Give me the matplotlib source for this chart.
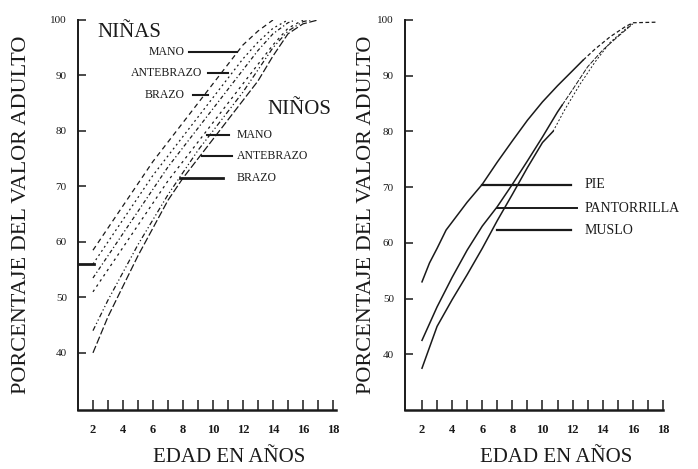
import matplotlib.pyplot as plt
import numpy as np

plt.rcParams['font.family'] = ['Liberation Serif', 'DejaVu Serif']

# left panel: growth curves of arm segments, girls (NIÑAS) and boys (NIÑOS)
ninas_mano_x = [2, 3, 4, 5, 6, 7, 8, 9, 10, 11, 12, 13, 14]
ninas_mano_y = [58.5, 62.5, 66.5, 70.5, 74.5, 78, 81.5, 85, 88.5, 92, 95.5, 98, 100]
ninas_ante_x = [2, 3, 4, 5, 6, 7, 8, 9, 10, 11, 12, 13, 14, 15]
ninas_ante_y = [56, 60, 64, 68, 72, 75.5, 79, 82.5, 86, 89.5, 93, 96, 98.5, 100]
ninas_brazo_x = [2, 3, 4, 5, 6, 7, 8, 9, 10, 11, 12, 13, 14, 15, 15.5]
ninas_brazo_y = [53.5, 57.5, 61.5, 65.5, 69.5, 73.5, 77, 80.5, 84, 87.5, 91, 94.5, 97.5, 99.5, 100]
ninos_mano_x = [2, 3, 4, 5, 6, 7, 8, 9, 10, 11, 12, 13, 14, 15, 16]
ninos_mano_y = [51, 55, 59, 63, 67, 71, 74.5, 78, 81.5, 85, 88.5, 92, 95.5, 98.5, 100]
ninos_ante_x = [2, 3, 4, 5, 6, 7, 8, 9, 10, 11, 12, 13, 14, 15, 16, 16.5]
ninos_ante_y = [44, 49.5, 54.5, 59.5, 64, 68.5, 72.5, 76.5, 80, 83.5, 87, 91, 95, 98, 99.7, 100]
ninos_brazo_x = [2, 3, 4, 5, 6, 7, 8, 9, 10, 11, 12, 13, 14, 15, 16, 17]
ninos_brazo_y = [40, 46.5, 52, 57.5, 62.5, 67.5, 71.5, 75, 78.5, 82, 85.5, 89, 93.5, 97.5, 99.3, 100]

# right panel: leg segments
pie_x = [2, 2.5, 3, 3.6, 5, 6, 7, 8, 9, 10, 11, 12, 12.7]
pie_y = [53, 56.4, 59, 62.3, 67.3, 70.5, 74.5, 78.3, 82, 85.3, 88.2, 90.9, 92.8]
pie_tail_x = [12.7, 13.5, 14.5, 15.5, 16, 17.5]
pie_tail_y = [92.8, 94.8, 97, 98.8, 99.5, 99.6]
pant_x = [2, 3, 4, 5, 6, 7, 8, 9, 10, 11, 11.3]
pant_y = [42.5, 48.5, 53.8, 58.7, 63, 66.5, 70.5, 74.7, 79, 83.5, 84.7]
pant_tail_x = [11.3, 12, 13, 14, 15, 16]
pant_tail_y = [84.7, 87.5, 91.6, 94.6, 97, 99.3]
muslo_x = [2, 3, 4, 5, 6, 7, 8, 9, 10, 10.7]
muslo_y = [37.5, 45, 49.8, 54.3, 59, 64, 68.7, 73.5, 78, 80]
muslo_tail_x = [10.7, 11.5, 12.5, 13.5, 14.5, 16]
muslo_tail_y = [80, 84, 88.5, 92.5, 96, 99.5]

yticks = [40, 50, 60, 70, 80, 90, 100]
xticks = list(range(2, 19))
xlabels = [str(t) if t % 2 == 0 else '' for t in xticks]

fig = plt.figure(figsize=(6.98, 4.69), dpi=100)
axL = fig.add_axes([0.1117, 0.1258, 0.3696, 0.8316])
axR = fig.add_axes([0.5802, 0.1258, 0.3696, 0.8316])

ink = '#1a1a1a'

def style(ax, xlim, ylim, ypad):
    ax.set_xlim(*xlim)
    ax.set_ylim(*ylim)
    ax.spines['top'].set_visible(False)
    ax.spines['right'].set_visible(False)
    ax.spines['left'].set_linewidth(1.4)
    ax.spines['bottom'].set_linewidth(1.8)
    ax.spines['left'].set_color(ink)
    ax.spines['bottom'].set_color(ink)
    ax.set_yticks(yticks)
    ax.set_yticklabels([str(v) for v in yticks], fontsize=8)
    ax.set_xticks(xticks)
    ax.set_xticklabels(xlabels, fontsize=9, fontweight='bold')
    ax.tick_params(axis='x', direction='in', length=7, width=1.1, pad=10, colors=ink)
    ax.tick_params(axis='y', direction='in', length=6, width=1.1, pad=8, colors=ink)
    ax.set_ylabel('PORCENTAJE DEL VALOR ADULTO', fontsize=16, color=ink, labelpad=ypad)
    ax.set_xlabel('EDAD EN AÑOS', fontsize=15, color=ink)
    ax.xaxis.set_label_coords(0.585, -0.098)

style(axL, (1, 18.2), (29.7, 100), 14)
style(axR, (0.87, 18), (30, 100), 1)

# left curves
lw = 0.9
axL.plot(ninas_mano_x, ninas_mano_y, color=ink, lw=lw, ls=(0, (4, 3)))
axL.plot(ninas_ante_x, ninas_ante_y, color=ink, lw=lw, ls=(0, (1.5, 2.5)))
axL.plot(ninas_brazo_x, ninas_brazo_y, color=ink, lw=lw, ls=(0, (3, 2, 1, 2)))
axL.plot(ninos_mano_x, ninos_mano_y, color=ink, lw=lw, ls=(0, (2, 3)))
axL.plot(ninos_ante_x, ninos_ante_y, color=ink, lw=lw, ls=(0, (4, 2, 1, 2, 1, 2)))
axL.plot(ninos_brazo_x, ninos_brazo_y, color=ink, lw=lw, ls=(0, (6, 2)))
axL.plot([1.1, 2.1], [56, 56], color=ink, lw=2)

# left labels
axL.text(2.3, 97.7, 'NIÑAS', fontsize=15, va='center', ha='left', color=ink)
axL.text(8.1, 94.2, 'MANO', fontsize=8.5, va='center', ha='right', color=ink)
axL.plot([8.4, 11.6], [94.2, 94.2], color=ink, lw=1.5)
axL.text(9.3, 90.5, 'ANTEBRAZO', fontsize=8.5, va='center', ha='right', color=ink)
axL.plot([9.7, 11.0], [90.5, 90.5], color=ink, lw=1.5)
axL.text(8.1, 86.5, 'BRAZO', fontsize=8.5, va='center', ha='right', color=ink)
axL.plot([8.7, 9.7], [86.5, 86.5], color=ink, lw=1.5)

axL.text(13.6, 83.8, 'NIÑOS', fontsize=15, va='center', ha='left', color=ink)
axL.text(11.6, 79.3, 'MANO', fontsize=8.5, va='center', ha='left', color=ink)
axL.plot([9.6, 11.1], [79.3, 79.3], color=ink, lw=1.5)
axL.text(11.6, 75.5, 'ANTEBRAZO', fontsize=8.5, va='center', ha='left', color=ink)
axL.plot([9.3, 11.3], [75.5, 75.5], color=ink, lw=1.5)
axL.text(11.6, 71.5, 'BRAZO', fontsize=8.5, va='center', ha='left', color=ink)
axL.plot([7.8, 10.7], [71.5, 71.5], color=ink, lw=2)

# right curves
axR.plot(pie_x, pie_y, color=ink, lw=1.1)
axR.plot(pie_tail_x, pie_tail_y, color=ink, lw=0.9, ls=(0, (3, 2)))
axR.plot(pant_x, pant_y, color=ink, lw=1.1)
axR.plot(pant_tail_x, pant_tail_y, color=ink, lw=0.7, ls=(0, (5, 1.5)))
axR.plot(muslo_x, muslo_y, color=ink, lw=1.1)
axR.plot(muslo_tail_x, muslo_tail_y, color=ink, lw=0.7, ls=(0, (2, 2)))

axR.plot([5.96, 11.9], [70.4, 70.4], color=ink, lw=1.6)
axR.text(12.8, 70.4, 'PIE', fontsize=10, va='center', ha='left', color=ink)
axR.plot([6.95, 12.3], [66.2, 66.2], color=ink, lw=1.4)
axR.text(12.8, 66.2, 'PANTORRILLA', fontsize=10, va='center', ha='left', color=ink)
axR.plot([6.95, 11.9], [62.3, 62.3], color=ink, lw=1.6)
axR.text(12.8, 62.3, 'MUSLO', fontsize=10, va='center', ha='left', color=ink)

fig.savefig('out.png', dpi=100)
